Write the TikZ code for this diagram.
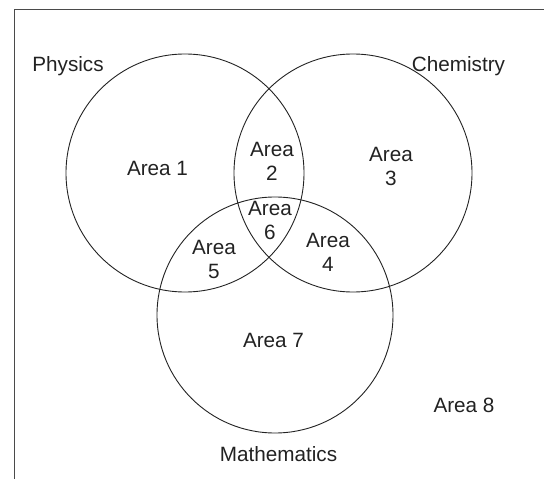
\documentclass[tikz,border=0pt]{standalone}
\usepackage{fontspec}
\setmainfont{Liberation Sans}
\usetikzlibrary{positioning}
\definecolor{ink}{HTML}{222222}
\definecolor{framegray}{HTML}{4A4A4A}

\begin{document}
\begin{tikzpicture}[x=1pt,y=-1pt,
  ring/.style={circle,draw=ink,line width=0.9pt,minimum size=238pt,inner sep=0pt},
  arealabel/.style={font=\fontsize{20.7}{24}\selectfont,text=ink,align=center,inner sep=0pt},
  subject/.style={font=\fontsize{20.7}{24}\selectfont,text=ink,anchor=base,inner sep=0pt}
]
\useasboundingbox (0,0) rectangle (544,479);
% frame, open at right and bottom
\draw[framegray,line width=1.6pt] (548,9.4) -- (14.6,9.4) -- (14.6,483);
% the three sets
\node[ring] (physics) at (185,173) {};
\node[ring] (chemistry) at (353,173) {};
\node[ring,minimum size=236pt] (maths) at (275,315) {};
\node[subject] (physicslbl) at (68,71.8) {Physics};
\node[subject] (chemistrylbl) at (458.5,71.8) {Chemistry};
\node[subject] (mathslbl) at (278.5,461) {Mathematics};
% areas
\foreach \n/\x/\y in {1/157.5/175, 7/273.5/347, 8/464/412}
  \node[arealabel,anchor=base] (area\n) at (\x,\y) {Area \n};
\foreach \n/\x/\y in {2/272/161, 3/391/166, 4/328/252, 5/214/259, 6/270/220}
  \node[arealabel] (area\n) at (\x,\y) {Area\\\n};
\end{tikzpicture}
\end{document}
